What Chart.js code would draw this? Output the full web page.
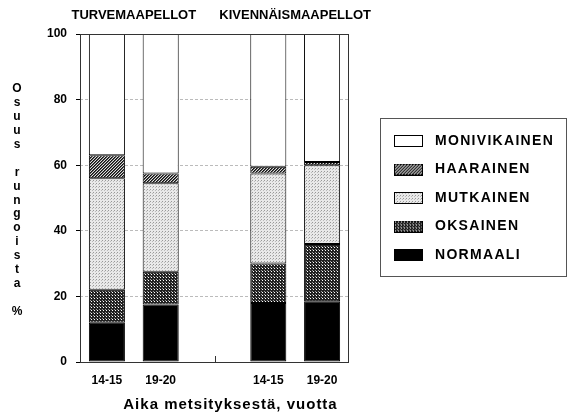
<!DOCTYPE html>
<html>
<head>
<meta charset="utf-8">
<script src="https://cdn.jsdelivr.net/npm/chart.js@4.4.1/dist/chart.umd.min.js"></script>
<style>
  html, body { margin: 0; padding: 0; background: #fff; }
</style>
</head>
<body>
<canvas id="chart" width="580" height="414"></canvas>
<script>
// luokat ja ryhmät
const categories = ['14-15', '19-20', '', '14-15', '19-20'];
const groups = ['TURVEMAAPELLOT', 'KIVENNÄISMAAPELLOT'];
const groupIndex = [[0, 1], [3, 4]];

// osuudet (%) pylväittäin, alhaalta ylös
const normaali     = [12,   17.5, null, 18,   18.5];
const oksainen     = [10,   10,   null, 12,   17.5];
const mutkainen    = [34,   27,   null, 27.5, 24];
const haarainen    = [7,    3,    null, 2,    1];
const monivikainen = [37,   42.5, null, 40.5, 39];

const yTicks = [0, 20, 40, 60, 80, 100];
const yTitle = 'Osuus rungoista %';
const xTitle = 'Aika metsityksestä, vuotta';

const FONT = '"Liberation Sans", Arial, Helvetica, sans-serif';
Chart.defaults.font.family = FONT;
Chart.defaults.color = '#000';

const ctx = document.getElementById('chart').getContext('2d');

// rasterikuviot pikseli kerrallaan
function tile(size, pick) {
    const c = document.createElement('canvas');
    c.width = size; c.height = size;
    const g = c.getContext('2d');
    for (let x = 0; x < size; x++) {
        for (let y = 0; y < size; y++) {
            g.fillStyle = pick(x, y);
            g.fillRect(x, y, 1, 1);
        }
    }
    return ctx.createPattern(c, 'repeat');
}

const fills = {
    normaali: '#000',
    oksainen: tile(3, (x, y) => (x === 1 && y === 1) ? '#fff' : (x === 0 && y === 0 ? '#999' : '#222')),
    mutkainen: tile(3, (x, y) => (x === 0 && y === 0) ? '#999' : (x === 2 && y === 1 ? '#bbb' : '#e9e9e9')),
    haarainen: tile(3, (x, y) => { const k = (x + y) % 3; return k === 0 ? '#ddd' : (k === 1 ? '#111' : '#555'); }),
    monivikainen: '#fff'
};

// legendan ruudut kuvina, jotta tekstin väli saadaan oikeaksi
function swatch(fill) {
    const c = document.createElement('canvas');
    c.width = 29; c.height = 12;
    const g = c.getContext('2d');
    g.fillStyle = fill;
    g.fillRect(0, 0, 29, 12);
    g.strokeStyle = '#000';
    g.lineWidth = 1;
    g.strokeRect(0.5, 0.5, 28, 11);
    return c;
}

function ds(label, data, fill) {
    return {
        label: label,
        data: data,
        backgroundColor: fill,
        borderColor: '#000',
        borderWidth: 1,
        borderSkipped: false,
        categoryPercentage: 0.67,
        barPercentage: 1
    };
}

const datasets = [
    ds('NORMAALI', normaali, fills.normaali),
    ds('OKSAINEN', oksainen, fills.oksainen),
    ds('MUTKAINEN', mutkainen, fills.mutkainen),
    ds('HAARAINEN', haarainen, fills.haarainen),
    ds('MONIVIKAINEN', monivikainen, fills.monivikainen)
];
const swatches = datasets.map(d => swatch(d.backgroundColor));

const decor = {
    id: 'decor',
    beforeLayout(chart) {
        const lg = chart.legend;
        if (lg && !lg._patched) {
            const fit = lg.fit;
            lg.fit = function () { fit.call(this); this.width = 231; };
            const draw = lg.draw;
            lg.draw = function () {
                this.ctx.save();
                this.ctx.letterSpacing = '1.3px';
                draw.call(this);
                this.ctx.restore();
            };
            lg._patched = true;
        }
    },
    afterLayout(chart) {
        const lg = chart.legend;
        const a = chart.chartArea;
        lg.left = 374.5; lg.right = 580;
        lg.top = a.top; lg.bottom = a.bottom;
    },
    afterDraw(chart) {
        const c = chart.ctx;
        const a = chart.chartArea;
        const xs = chart.scales.x;
        c.save();
        // kehys
        c.strokeStyle = '#333';
        c.lineWidth = 1;
        c.strokeRect(Math.round(a.left) + 0.5, Math.round(a.top) + 0.5,
            Math.round(a.right - a.left) - 1, Math.round(a.bottom - a.top));
        // pieni merkki tyhjän välin kohdalla
        const mx = Math.round(xs.getPixelForValue(2)) + 0.5;
        c.beginPath();
        c.moveTo(mx, a.bottom - 6);
        c.lineTo(mx, a.bottom);
        c.stroke();
        // legendan laatikko
        const hb = chart.legend.legendHitBoxes;
        if (hb && hb.length) {
            const top = hb[0].top - 16.5;
            const bot = hb[hb.length - 1].top + hb[hb.length - 1].height + 13.5;
            c.strokeStyle = '#555';
            c.strokeRect(380.5, Math.round(top) + 0.5, 186, Math.round(bot - top));
        }
        c.fillStyle = '#000';
        c.textAlign = 'center';
        c.textBaseline = 'middle';
        // ryhmien otsikot
        c.font = 'bold 13px ' + FONT;
        groups.forEach((g, i) => {
            const [i0, i1] = groupIndex[i];
            const gx = (xs.getPixelForValue(i0) + xs.getPixelForValue(i1)) / 2;
            c.fillText(g, gx, 15);
        });
        // y-akselin otsikko pystyyn kirjain kerrallaan
        c.font = 'bold 12px ' + FONT;
        [...yTitle].forEach((ch, i) => {
            c.fillText(ch, 17, 89 + i * 13.9);
        });
        // x-akselin otsikko
        c.font = 'bold 15px ' + FONT;
        c.letterSpacing = '1px';
        c.fillText(xTitle, 230.5, 405);
        c.restore();
    }
};

new Chart(ctx, {
    type: 'bar',
    data: { labels: categories, datasets: datasets },
    options: {
        responsive: false,
        animation: false,
        devicePixelRatio: 1,
        layout: { padding: { top: 34, left: 0, right: 0, bottom: 0 } },
        plugins: {
            title: { display: false },
            tooltip: { enabled: false },
            legend: {
                position: 'right',
                reverse: true,
                labels: {
                    usePointStyle: true,
                    pointStyleWidth: 39,
                    boxHeight: 12,
                    padding: 14.5,
                    color: '#000',
                    font: { size: 14, weight: 'bold' },
                    generateLabels: (chart) => Chart.defaults.plugins.legend.labels.generateLabels(chart)
                        .map(l => Object.assign(l, { pointStyle: swatches[l.datasetIndex] }))
                }
            }
        },
        scales: {
            x: {
                stacked: true,
                grid: { display: false },
                border: { display: false },
                ticks: { font: { size: 12, weight: 'bold' }, color: '#000', padding: 3 },
                afterFit: s => { s.height = 52; }
            },
            y: {
                stacked: true,
                min: 0,
                max: 100,
                afterBuildTicks: s => { s.ticks = yTicks.map(v => ({ value: v })); },
                ticks: { font: { size: 12, weight: 'bold' }, color: '#000', padding: 9 },
                grid: { color: '#bbbbbb', tickColor: '#000', tickLength: 4, tickBorderDash: [] },
                border: { display: false, dash: [3, 2] },
                afterFit: s => { s.width = 80; }
            }
        }
    },
    plugins: [decor]
});
</script>
</body>
</html>
